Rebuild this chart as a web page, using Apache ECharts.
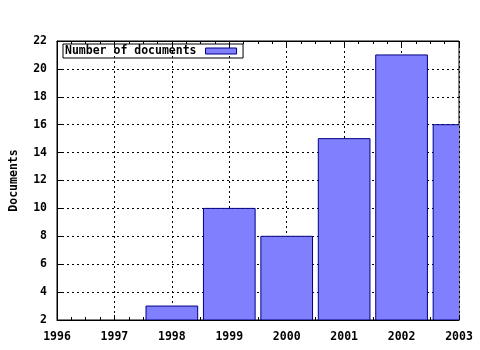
<!DOCTYPE html>
<html><head><meta charset="utf-8">
<script src="https://cdn.jsdelivr.net/npm/echarts@6/dist/echarts.min.js"></script>
<style>html,body{margin:0;padding:0;background:#fff}#c{width:480px;height:350px}</style>
</head><body><div id="c"></div>
<script>
const years = [1998, 1999, 2000, 2001, 2002, 2003];
const documents = [3, 10, 8, 15, 21, 16];
const seriesName = 'Number of documents';
const yLabel = 'Documents';

const FONT = 'DejaVu Sans Mono';
const FS = 11.5;
const chart = echarts.init(document.getElementById('c'), null, {renderer: 'canvas'});
const tickStyle = {color: '#000', width: 1};
chart.setOption({
  animation: false,
  backgroundColor: '#fff',
  textStyle: {fontFamily: FONT, fontWeight: 'bold', fontSize: FS, color: '#000'},
  grid: {left: 57, right: 21, top: 41, bottom: 30, show: true, borderColor: '#000', borderWidth: 1, backgroundColor: 'transparent'},
  legend: {
    data: [seriesName], left: 63, top: 44, align: 'right', icon: 'rect',
    itemWidth: 31, itemHeight: 6, borderColor: '#000', borderWidth: 1,
    padding: [1, 6, 1, 2],
    itemStyle: {color: '#8080ff', borderColor: '#000080', borderWidth: 1},
    textStyle: {fontFamily: FONT, fontWeight: 'bold', fontSize: FS, color: '#000', padding: [0, 4, 0, 0]}
  },
  xAxis: [{
    type: 'value', min: 1996, max: 2003, interval: 1, position: 'bottom',
    axisLine: {show: true, lineStyle: {color: '#000'}},
    axisTick: {show: true, inside: true, length: 5, lineStyle: tickStyle},
    minorTick: {show: true, splitNumber: 4, length: 3, lineStyle: tickStyle},
    axisLabel: {color: '#000', fontFamily: FONT, fontWeight: 'bold', fontSize: FS, margin: 11, formatter: v => String(v)},
    splitLine: {show: true, lineStyle: {color: '#000', type: [2, 3], width: 1}}
  }, {
    type: 'value', min: 1996, max: 2003, interval: 1, position: 'top',
    axisLine: {show: true, lineStyle: {color: '#000'}},
    axisTick: {show: true, inside: true, length: 5, lineStyle: tickStyle},
    minorTick: {show: true, splitNumber: 4, length: 3, lineStyle: tickStyle},
    axisLabel: {show: false}, splitLine: {show: false}
  }],
  yAxis: [{
    type: 'value', min: 2, max: 22, interval: 2,
    name: yLabel, nameLocation: 'middle', nameGap: 37, nameRotate: 90,
    nameTextStyle: {color: '#000', fontFamily: FONT, fontWeight: 'bold', fontSize: FS},
    axisLine: {show: true, lineStyle: {color: '#000'}},
    axisTick: {show: true, inside: true, length: 5, lineStyle: tickStyle},
    axisLabel: {color: '#000', fontFamily: FONT, fontWeight: 'bold', fontSize: FS, margin: 10},
    splitLine: {show: true, lineStyle: {color: '#000', type: [2, 3], width: 1}}
  }],
  series: [{
    name: seriesName, type: 'custom', clip: true, z: 3,
    itemStyle: {color: '#8080ff', borderColor: '#000080', borderWidth: 1},
    data: years.map((y, i) => [y, documents[i]]),
    renderItem: function (params, api) {
      const x = api.value(0), v = api.value(1);
      const top = api.coord([x, v]);
      const base = api.coord([x, 2]);
      const w = api.size([0.9, 0])[0];
      return {
        type: 'rect',
        shape: {x: top[0] - w / 2, y: top[1], width: w, height: base[1] - top[1]},
        style: {fill: '#8080ff', stroke: '#000080', lineWidth: 1}
      };
    }
  }]
});
</script></body></html>
